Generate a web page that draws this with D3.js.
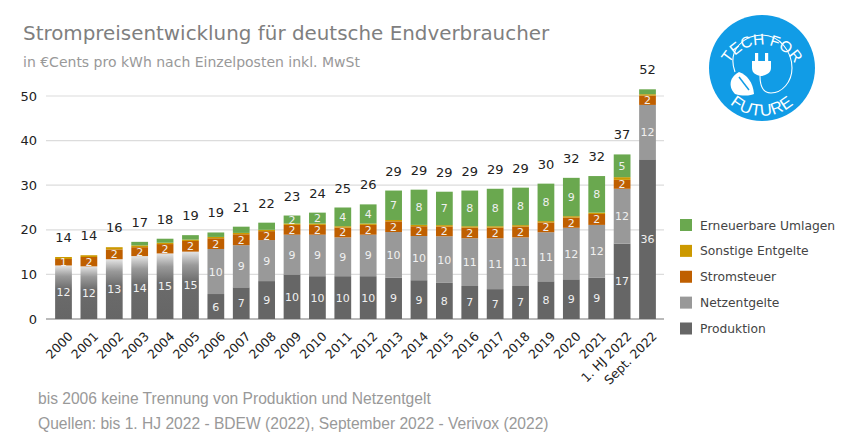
<!DOCTYPE html>
<html><head><meta charset="utf-8">
<script src="https://cdn.jsdelivr.net/npm/d3@7"></script>
<style>html,body{margin:0;padding:0;background:#fff}svg{display:block}text{font-family:"DejaVu Sans",sans-serif}</style>
</head><body><svg id="c" width="850" height="446"></svg>
<script>
const categories=["2000","2001","2002","2003","2004","2005","2006","2007","2008","2009","2010","2011","2012","2013","2014","2015","2016","2017","2018","2019","2020","2021","1. HJ 2022","Sept. 2022"];
const produktion=[12.0,11.8,13.4,14.1,14.7,15.1,5.6,7.1,8.5,10.0,9.6,9.6,9.6,9.3,8.7,8.1,7.4,6.7,7.4,8.45,8.9,9.3,16.9,35.8];
const netzentgelte=[0,0,0,0,0,0,10.1,9.45,9.2,8.9,9.3,8.7,9.3,10.2,9.9,10.45,10.7,11.4,10.9,11.0,11.55,11.8,12.3,12.2];
const stromsteuer=[1.45,2.1,2.2,2.0,2.1,2.4,2.4,2.45,2.0,2.2,2.2,2.2,2.2,2.4,2.2,2.2,2.4,2.4,2.45,2.2,2.3,2.45,2.0,2.1];
const sonstige=[0.45,0.4,0.5,0.4,0.3,0.3,0.3,0.3,0.3,0.3,0.3,0.3,0.3,0.3,0.3,0.3,0.3,0.3,0.3,0.3,0.3,0.3,0.6,0.3];
const erneuerbare=[0,0,0,0.8,0.9,1.0,1.0,1.4,1.6,1.8,2.45,4.2,4.3,6.6,7.9,7.49,8.0,8.4,8.4,8.4,8.6,8.2,5.1,1.1];
const tickValues=[0,10,20,30,40,50];
const seriesNames=["Produktion","Netzentgelte","Stromsteuer","Sonstige Entgelte","Erneuerbare Umlagen"];
const seriesColors=["#666666","#999999","#bf5f00","#cc9900","#6aa84f"];
const subtitle="in €Cents pro kWh nach Einzelposten inkl. MwSt";
const title="Strompreisentwicklung für deutsche Endverbraucher";
const notes=["bis 2006 keine Trennung von Produktion und Netzentgelt","Quellen: bis 1. HJ 2022 - BDEW (2022), September 2022 - Verivox (2022)"];
const gradientBars=6;

const svg=d3.select("#c");
const x=d3.scaleBand().domain(categories).range([50.8,660.2]).paddingInner(0.34).paddingOuter(0.17);
const y=d3.scaleLinear().domain([0,50]).range([319,96]);
const rows=categories.map((c,i)=>({c,i,Produktion:produktion[i],Netzentgelte:netzentgelte[i],Stromsteuer:stromsteuer[i],"Sonstige Entgelte":sonstige[i],"Erneuerbare Umlagen":erneuerbare[i]}));
const stack=d3.stack().keys(seriesNames)(rows);

const defs=svg.append("defs");
const g=defs.append("linearGradient").attr("id","fade").attr("x1",0).attr("x2",0).attr("y1",1).attr("y2",0);
[[0,"#666666"],[0.55,"#6b6b6b"],[0.8,"#9a9a9a"],[1,"#e4e4e4"]].forEach(s=>g.append("stop").attr("offset",s[0]).attr("stop-color",s[1]));

svg.append("text").attr("x",23).attr("y",40).attr("font-size",19.9).attr("fill","#7f7f7f").text(title);
svg.append("text").attr("x",23).attr("y",67).attr("font-size",14).attr("fill","#999").text(subtitle);

const yAxis=d3.axisLeft(y).tickValues(tickValues).tickSize(0).tickPadding(0);
const ya=svg.append("g").attr("transform","translate(37,0)").call(yAxis);
ya.select(".domain").remove();
ya.selectAll("text").attr("font-size",13).attr("fill","#222");
svg.append("g").selectAll("line").data(tickValues).join("line")
 .attr("x1",46).attr("x2",664).attr("y1",d=>y(d)).attr("y2",d=>y(d))
 .attr("stroke",d=>d===0?"#777":"#dcdcdc").attr("stroke-width",1.2);

const bars=svg.append("g");
stack.forEach((s,k)=>{
  bars.append("g").selectAll("rect").data(s.filter(d=>d[1]>d[0])).join("rect")
   .attr("x",d=>x(d.data.c)).attr("width",x.bandwidth())
   .attr("y",d=>y(d[1])).attr("height",d=>y(d[0])-y(d[1]))
   .attr("fill",d=>(k===0&&d.data.i<gradientBars)?"url(#fade)":seriesColors[k]);
});
const labels=svg.append("g");
[0,1,2,4].forEach(k=>{
  labels.append("g").selectAll("text").data(stack[k].filter(d=>(d[1]-d[0])>=1.4&&!(k===4&&(d[1]-d[0])<1.7))).join("text")
   .attr("x",d=>x(d.data.c)+x.bandwidth()/2).attr("y",d=>y((d[0]+d[1])/2)+4)
   .attr("text-anchor","middle").attr("font-size",11).attr("fill","#f0f0f0")
   .text(d=>Math.round(d[1]-d[0]));
});
const totals=rows.map(r=>seriesNames.reduce((a,n)=>a+r[n],0));
svg.append("g").selectAll("text").data(rows).join("text")
 .attr("x",d=>x(d.c)+x.bandwidth()/2).attr("y",d=>y(totals[d.i])-15)
 .attr("text-anchor","middle").attr("font-size",13).attr("fill","#222")
 .text(d=>Math.round(totals[d.i]));

const xAxis=d3.axisBottom(x).tickSize(0).tickPadding(0);
const xa=svg.append("g").attr("transform","translate(0,319)").call(xAxis);
xa.select(".domain").remove();
xa.selectAll("text").attr("font-size",12.5).attr("fill","#222").attr("text-anchor","end")
  .attr("transform","translate(4,12) rotate(-45)").attr("dy","0.7em").attr("y",0);

const order=[4,3,2,1,0];
const ly=d3.scalePoint().domain(order).range([225,328.5]);
const leg=svg.append("g");
leg.selectAll("rect").data(order).join("rect").attr("x",680).attr("y",k=>ly(k)-6).attr("width",12).attr("height",12).attr("fill",k=>seriesColors[k]);
leg.selectAll("text").data(order).join("text").attr("x",700).attr("y",k=>ly(k)+4.5).attr("font-size",12.3).attr("fill","#444").text(k=>seriesNames[k]);

svg.append("text").attr("x",38).attr("y",404).attr("font-size",15.6).style("font-family","Liberation Sans").attr("fill","#999").text(notes[0]);
svg.append("text").attr("x",38).attr("y",428.5).attr("font-size",15.6).style("font-family","Liberation Sans").attr("fill","#999").text(notes[1]);

// logo
const logo=svg.append("g").attr("transform","translate(762,68)");
logo.append("circle").attr("r",53).attr("fill","#119ce6");
logo.append("path").attr("id","arcTop").attr("d","M-37,8 A37.5,37.5 0 0 1 37,8").attr("fill","none");
logo.append("path").attr("id","arcBot").attr("d","M-48,0 A48,48 0 0 0 48,0").attr("fill","none");
logo.append("text").attr("font-size",15.5).attr("fill","#fff").style("font-family","Liberation Sans").attr("text-anchor","middle")
  .append("textPath").attr("href","#arcTop").attr("startOffset","50%").text("TECH FOR");
logo.append("text").attr("font-size",16.5).attr("fill","#fff").style("font-family","Liberation Sans").attr("text-anchor","middle")
  .append("textPath").attr("href","#arcBot").attr("startOffset","50%").attr("letter-spacing",0.5).text("FUTURE");
logo.append("path").attr("d","M-27,4 C-35,-18 -18,-33 0,-33 C18,-33 30,-16 30,0 C30,14 20,25 9,25 C1,25 -2,18 -2,8").attr("fill","none").attr("stroke","#fff").attr("stroke-width",1.1);
logo.append("path").attr("d","M-10,-7 H9 V0 C9,5 4,7 0,8 H-2 C-6,7 -10,5 -10,0 Z").attr("fill","#fff");
logo.append("rect").attr("x",-7).attr("y",-15).attr("width",3.2).attr("height",9).attr("fill","#fff");
logo.append("rect").attr("x",3).attr("y",-15).attr("width",3.2).attr("height",9).attr("fill","#fff");
logo.append("path").attr("d","M-23,4 C-34,10 -33,20 -27,26 C-18,29 -10,27 -8,26 C-9,14 -15,7 -23,4 Z").attr("fill","#fff");
logo.append("path").attr("d","M-23,9 L-13,22").attr("stroke","#119ce6").attr("stroke-width",1.5).attr("fill","none");
</script></body></html>
